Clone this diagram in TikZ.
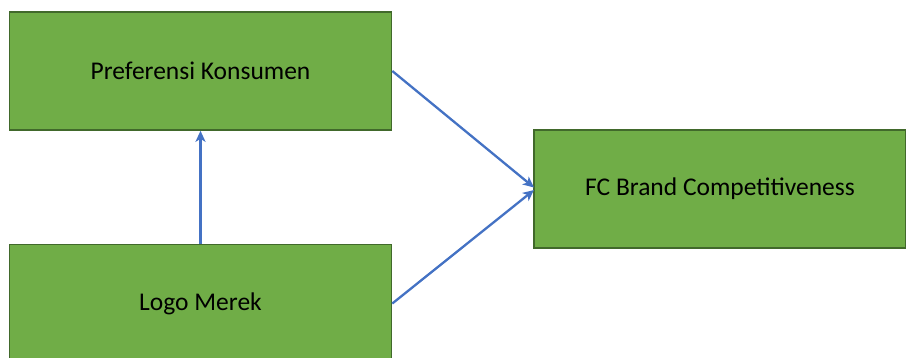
\documentclass[tikz,border=0pt]{standalone}
\usepackage{fontspec}
\setmainfont{Carlito}
\usetikzlibrary{arrows.meta}
\definecolor{boxgreen}{HTML}{70AD47}
\definecolor{boxedge}{HTML}{41692B}
\definecolor{arrowblue}{HTML}{4472C4}
\begin{document}
\begin{tikzpicture}[x=1pt,y=-1pt,
  greenbox/.style={draw=boxedge,fill=boxgreen,line width=1.6pt,minimum width=382pt,minimum height=118pt,inner sep=0pt,font=\fontsize{25.5}{30}\selectfont},
  conn/.style={draw=arrowblue,line width=2.3pt,-{Stealth[length=11pt,width=10pt,inset=3pt]}}]
\clip (0,0) rectangle (906,357);
\fill[white] (0,0) rectangle (906,357);
\node[greenbox] (pk) at (200.5,71) {Preferensi Konsumen};
\node[greenbox] (lm) at (200.5,303.5) {Logo Merek};
\node[greenbox,minimum width=372pt,minimum height=117.5pt] (fc) at (720,189) {FC Brand Competitiveness};
\coordinate (t1) at (534,187.5);
\coordinate (t2) at (534,190);
\draw[conn] (lm.north) -- (pk.south);
\draw[conn] (pk.east) -- (t1);
\draw[conn] (lm.east) -- (t2);
\end{tikzpicture}
\end{document}
